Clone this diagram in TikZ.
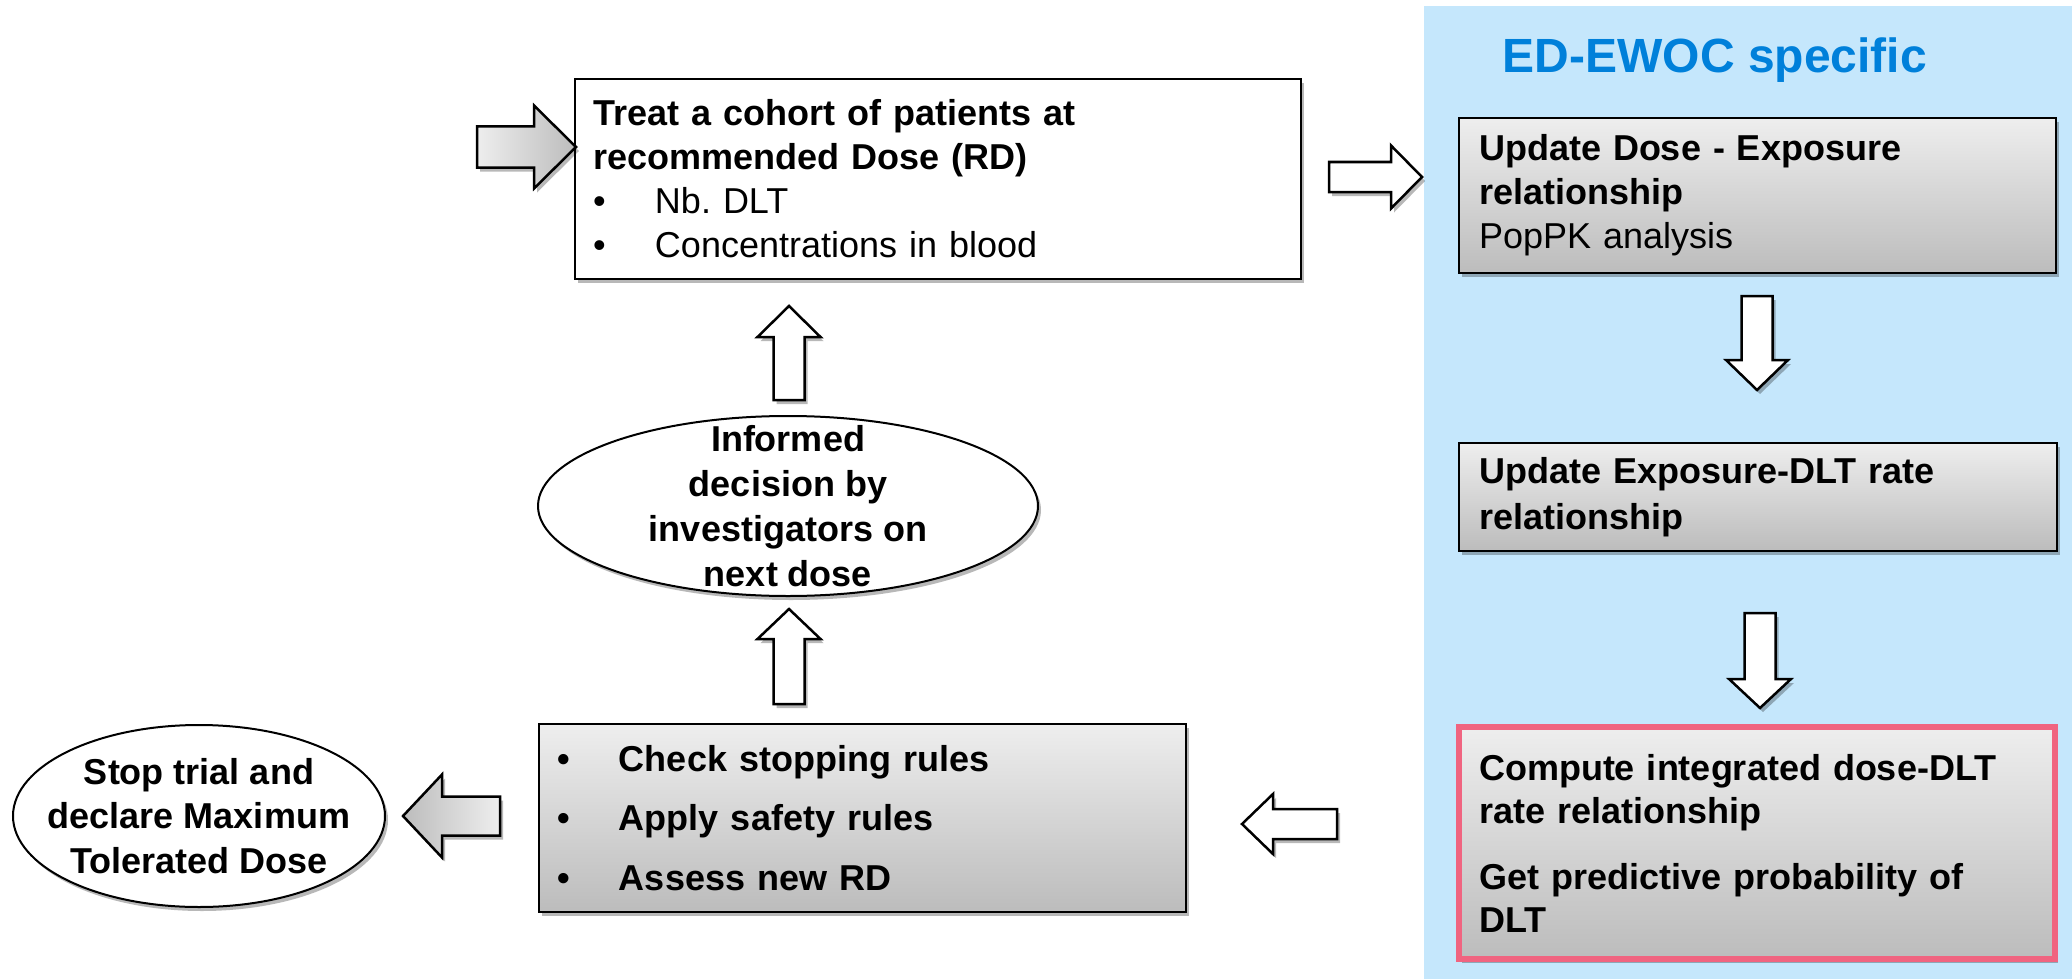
\documentclass[tikz,border=0pt]{standalone}
\usepackage{fontspec}
\setmainfont{Liberation Sans}
\usetikzlibrary{shapes.geometric,shadows}
\definecolor{panelblue}{RGB}{197,231,252}
\definecolor{titleblue}{RGB}{0,128,218}
\definecolor{gtop}{RGB}{238,238,238}
\definecolor{gbot}{RGB}{188,188,188}
\definecolor{rosered}{RGB}{240,100,128}
\newcommand\myharrow[7]{%
  \draw[#1] (#2,{#5-#6}) -- (#3,{#5-#6}) -- (#3,{#5-#7}) -- (#4,#5) -- (#3,{#5+#7}) -- (#3,{#5+#6}) -- (#2,{#5+#6}) -- cycle;}
\newcommand\myvarrow[7]{%
  \draw[#1] ({#5-#6},#2) -- ({#5-#6},#3) -- ({#5-#7},#3) -- (#5,#4) -- ({#5+#7},#3) -- ({#5+#6},#3) -- ({#5+#6},#2) -- cycle;}
\newcommand\bul{\makebox[62pt][l]{\textbullet}}
\frenchspacing
\tikzset{
  shad/.style={drop shadow={shadow xshift=3pt, shadow yshift=-4pt, opacity=0.28, fill=black}},
  txt/.style={font=\fontsize{36}{44}\selectfont},
  whitebox/.style={rectangle, draw=black, line width=2pt, fill=white, shad, txt, align=left, inner xsep=18pt, inner ysep=0pt},
  graybox/.style={rectangle, draw=black, line width=2pt, top color=gtop, bottom color=gbot, shad, txt, align=left, inner xsep=20pt, inner ysep=0pt},
  oval/.style={ellipse, draw=black, line width=2pt, fill=white, shad, inner sep=0pt},
  ovaltext/.style={align=center, inner sep=0pt},
  whitearrow/.style={draw=black, line width=2.5pt, fill=white, shad},
  grayarrowR/.style={draw=black, line width=2.5pt, left color=gtop, right color=gbot, shad},
  grayarrowL/.style={draw=black, line width=2.5pt, left color=gbot, right color=gtop, shad},
}
\begin{document}
\begin{tikzpicture}[x=1pt,y=-1pt]
\useasboundingbox (0,0) rectangle (2072,979);
\fill[white] (0,0) rectangle (2072,979);
% blue panel
\fill[panelblue] (1424,6) rectangle (2072,979);
\node[font=\fontsize{48}{58}\selectfont\bfseries, text=titleblue] (title) at (1715,60) {ED-EWOC specific};

% main loop
\node[whitebox, minimum width=726pt, minimum height=200pt, text width=690pt] (treat) at (938,179)
  {\textbf{Treat a cohort of patients at}\\\textbf{recommended Dose (RD)}\\\bul Nb. DLT\\\bul Concentrations in blood};
\node[oval, minimum width=500pt, minimum height=180pt,
  label={[ovaltext, font=\fontsize{36}{45}\selectfont\bfseries]center:Informed\\decision by\\investigators on\\next dose}] (decide) at (788,506) {};
\node[graybox, minimum width=647pt, minimum height=188pt, text width=611pt, inner xsep=18pt, font=\fontsize{36}{59.5}\selectfont\bfseries] (rules) at (862.5,818)
  {\bul Check stopping rules\\\bul Apply safety rules\\\bul Assess new RD};
\node[oval, minimum width=372pt, minimum height=182pt,
  label={[ovaltext, font=\fontsize{36}{44.5}\selectfont\bfseries]center:Stop trial and\\declare Maximum\\Tolerated Dose}] (stop) at (199,816) {};

% ED-EWOC boxes
\node[graybox, minimum width=597pt, minimum height=155pt, text width=557pt] (upd1) at (1757.5,195.5)
  {\textbf{Update Dose - Exposure}\\\textbf{relationship}\\PopPK analysis};
\node[graybox, minimum width=598pt, minimum height=108pt, text width=558pt, font=\fontsize{36}{46}\selectfont\bfseries] (upd2) at (1758,497)
  {Update Exposure-DLT rate\\relationship};
\node[graybox, draw=rosered, line width=6pt, minimum width=596pt, minimum height=232pt, text width=556pt, font=\fontsize{36}{43}\selectfont\bfseries] (comp) at (1757,843)
  {Compute integrated dose-DLT\\rate relationship\\[23pt]Get predictive probability of\\DLT};

% block arrows
\myharrow{grayarrowR}{477}{534}{576}{147}{20.5}{41.5}
\myharrow{whitearrow}{1329}{1391}{1422}{177}{15}{31.5}
\myvarrow{whitearrow}{400}{337}{306}{789}{15.5}{31.5}
\myvarrow{whitearrow}{704}{639}{609}{789}{15.5}{31.5}
\myharrow{grayarrowL}{500}{442}{403}{816}{19.5}{41.5}
\myharrow{whitearrow}{1337}{1273}{1242}{824}{15}{30}
\myvarrow{whitearrow}{296}{360}{390}{1757}{15.5}{31}
\myvarrow{whitearrow}{613}{679}{708}{1760}{15.5}{31}
\end{tikzpicture}
\end{document}
